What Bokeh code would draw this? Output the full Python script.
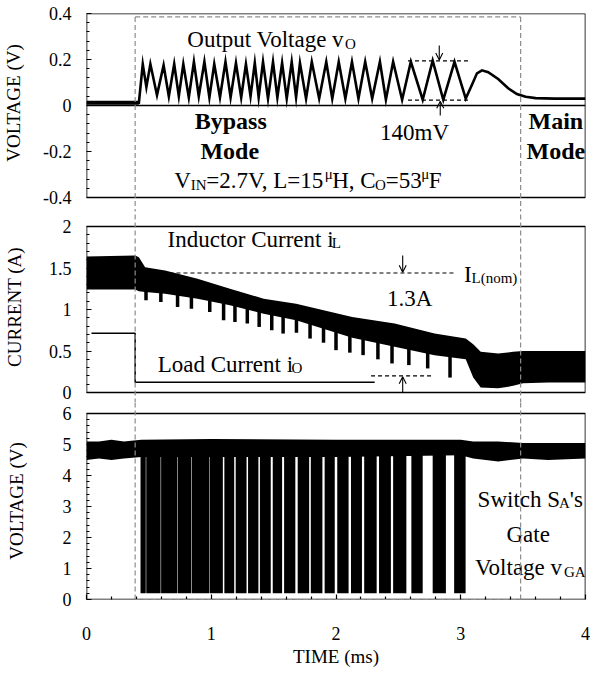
import numpy as np
from bokeh.plotting import figure
from bokeh.models import Range1d, FixedTicker, ColumnDataSource, Arrow, OpenHead
from bokeh.layouts import column
from bokeh.embed import file_html
from bokeh.resources import INLINE
from bokeh.core.properties import value

# ------------------------------------------------------------------ data
time_ticks = [0, 1, 2, 3, 4]
time_labels = ["0", "1", "2", "3", "4"]
vo_ticks = [-0.4, -0.2, 0, 0.2, 0.4]
vo_labels = ["-0.4", "-0.2", "0", "0.2", "0.4"]
il_ticks = [0, 0.5, 1, 1.5, 2]
il_labels = ["0", "0.5", "1", "1.5", "2"]
vga_ticks = [0, 1, 2, 3, 4, 5, 6]
vga_labels = ["0", "1", "2", "3", "4", "5", "6"]

# output voltage v_O (ms, V) - peaks and valleys of the ripple
vo_t = [0.00, 0.42, 0.451, 0.48, 0.512, 0.565, 0.618, 0.66, 0.703, 0.74, 0.776, 0.82,
        0.861, 0.90, 0.945, 0.985, 1.024, 1.07, 1.114, 1.155, 1.198, 1.24, 1.278, 1.315,
        1.349, 1.38, 1.415, 1.455, 1.495, 1.53, 1.568, 1.605, 1.645, 1.68, 1.711, 1.76,
        1.806, 1.865, 1.922, 1.97, 2.022, 2.075, 2.128, 2.18, 2.234, 2.29, 2.352, 2.40,
        2.458, 2.53, 2.60, 2.695, 2.775, 2.86, 2.95, 3.04, 3.09, 3.13, 3.17, 3.22, 3.30,
        3.38, 3.45, 3.52, 3.60, 3.75, 4.00]
vo_v = [0.012, 0.012, 0.18, 0.08, 0.18, 0.045, 0.175, 0.04, 0.18, 0.04, 0.18, 0.035,
        0.19, 0.04, 0.19, 0.035, 0.18, 0.035, 0.19, 0.035, 0.185, 0.035, 0.18, 0.04,
        0.185, 0.035, 0.19, 0.03, 0.19, 0.035, 0.185, 0.03, 0.19, 0.035, 0.185, 0.03,
        0.19, 0.03, 0.19, 0.03, 0.19, 0.03, 0.19, 0.03, 0.19, 0.03, 0.19, 0.025,
        0.19, 0.025, 0.19, 0.025, 0.195, 0.025, 0.19, 0.03, 0.09, 0.14, 0.153, 0.145, 0.115,
        0.075, 0.05, 0.038, 0.032, 0.03, 0.03]

# inductor current i_L envelope (ms, A)
il_t = [0.00, 0.39, 0.42, 0.47, 0.63, 0.89, 1.15, 1.42, 1.68, 2.13, 2.47, 2.79, 3.04,
        3.10, 3.16, 3.30, 3.42, 3.50, 3.70, 4.00]
il_hi = [1.64, 1.65, 1.63, 1.51, 1.47, 1.37, 1.25, 1.13, 1.07, 0.91, 0.83, 0.71, 0.65,
         0.58, 0.49, 0.47, 0.49, 0.50, 0.50, 0.50]
il_lo = [1.24, 1.24, 1.22, 1.21, 1.19, 1.13, 1.05, 0.95, 0.87, 0.66, 0.55, 0.45, 0.40,
         0.18, 0.06, 0.05, 0.08, 0.11, 0.12, 0.12]
# downward teeth of i_L at the end of each switching burst
dip_t = [0.477, 0.596, 0.730, 0.841, 0.988, 1.099, 1.190, 1.289, 1.384, 1.485, 1.576,
         1.683, 1.792, 1.900, 2.000, 2.111, 2.217, 2.336, 2.449, 2.584, 2.735, 2.914]
dip_top = [1.30, 1.28, 1.25, 1.22, 1.18, 1.13, 1.09, 1.06, 1.02, 0.99, 0.96,
           0.92, 0.87, 0.82, 0.78, 0.74, 0.70, 0.67, 0.63, 0.59, 0.53, 0.50]
dip_v = [1.11, 1.09, 1.03, 1.01, 0.97, 0.87, 0.85, 0.83, 0.79, 0.75, 0.71,
         0.72, 0.65, 0.60, 0.51, 0.48, 0.45, 0.40, 0.35, 0.33, 0.29, 0.18]

# load current i_O step (ms, A)
io_t = [0.04, 0.39, 0.39, 2.31]
io_v = [0.715, 0.715, 0.125, 0.125]

# gate voltage v_GA : switching bursts (ms) and idle-high band (V)
burst_on = [0.433, 0.479, 0.598, 0.733, 0.844, 0.990, 1.105, 1.196, 1.295, 1.390, 1.493,
            1.584, 1.693, 1.798, 1.909, 2.010, 2.120, 2.226, 2.345, 2.458, 2.604, 2.775, 2.947]
burst_off = [0.475, 0.594, 0.729, 0.840, 0.986, 1.093, 1.184, 1.283, 1.378, 1.477, 1.568,
             1.674, 1.785, 1.891, 1.990, 2.101, 2.208, 2.326, 2.440, 2.564, 2.695, 2.881, 3.039]
burst_low = 0.2
burst_high = 5.0
gh_t = [0.00, 0.10, 0.20, 0.30, 0.44, 1.00, 2.00, 3.00, 3.10, 3.30, 3.50, 3.70, 4.00]
gh_hi = [5.10, 5.10, 5.15, 5.10, 5.15, 5.18, 5.15, 5.15, 5.10, 5.10, 5.05, 5.05, 5.05]
gh_lo = [4.50, 4.55, 4.50, 4.55, 4.60, 4.60, 4.60, 4.65, 4.55, 4.45, 4.55, 4.50, 4.55]

# dashed marker window (ms) and measurement marks
win_t0, win_t1 = 0.39, 3.48
win_top = 0.385
ripple_hi, ripple_lo = 0.194, 0.023
ripple_t = [2.577, 3.06]
ilnom = 1.44
ilnom_t = [0.665, 2.946]
io_mark = 0.2
io_mark_t = [2.281, 2.772]

# ------------------------------------------------------------------ layout helpers
FONT = "Liberation Serif"
W, FL, FW = 590, 80, 505
X0 = 8 + FL           # page px of t = 0
SX = FW / 4.0         # px per ms
TXT_UP = 8            # px: lift of annotation baselines

TIMES = {' ': 250, '!': 333, "'": 180, '(': 333, ')': 333, ',': 250, '-': 333, '.': 250,
         '=': 564, 'A': 722, 'B': 667, 'C': 667, 'F': 556, 'G': 722, 'H': 722, 'I': 333,
         'L': 611, 'M': 889, 'N': 722, 'O': 722, 'S': 556, 'T': 611, 'V': 722, 'a': 444,
         'c': 444, 'd': 500, 'e': 444, 'g': 500, 'h': 500, 'i': 278, 'l': 278, 'm': 778,
         'n': 500, 'o': 500, 'p': 500, 'r': 333, 's': 389, 't': 278, 'u': 500, 'v': 500,
         'w': 722, 'y': 500, '\u03bc': 500}
for _d in "0123456789":
    TIMES[_d] = 500


def px2t(px):
    return (px - X0) / SX


def twidth(s, size):
    return sum(TIMES.get(c, 500) for c in s) / 1000.0 * size


def rich(store, x_px, y_val, ppu, pieces, anchor="left", size=23, sub=15):
    y_val = y_val + TXT_UP / ppu
    ws = [twidth(t, size if k == "n" else sub) for t, k in pieces]
    cur = x_px - (sum(ws) / 2.0 if anchor == "center" else 0)
    for (t, k), w in zip(pieces, ws):
        dy = {"n": 0, "sub": 4, "sup": -7}[k]
        store["x"].append(px2t(cur))
        store["y"].append(y_val - dy / ppu)
        store["text"].append(t)
        store["size"].append("%dpx" % (size if k == "n" else sub))
        store["style"].append("normal")
        store["align"].append("left")
        cur += w


def plain(store, x_px, y_val, ppu, text, size=23, style="normal", align="center"):
    store["x"].append(px2t(x_px))
    store["y"].append(y_val + TXT_UP / ppu)
    store["text"].append(text)
    store["size"].append("%dpx" % size)
    store["style"].append(style)
    store["align"].append(align)


def new_store():
    return dict(x=[], y=[], text=[], size=[], style=[], align=[])


def draw_texts(p, store):
    p.text(x="x", y="y", text="text", source=ColumnDataSource(store),
           text_font=value(FONT), text_font_size="size", text_font_style="style",
           text_align="align", text_baseline="alphabetic", text_color="black")


def minor_list(lo, hi, step, majors):
    n = int(round((hi - lo) / step))
    out = []
    for i in range(n + 1):
        v = round(lo + i * step, 4)
        if all(abs(v - m) > 1e-6 for m in majors):
            out.append(v)
    return out


def style_axis(ax, ticks, labels, minor, label, lab_standoff, tick_standoff):
    ax.ticker = FixedTicker(ticks=ticks, minor_ticks=minor)
    ax.major_label_overrides = {t: l for t, l in zip(ticks, labels)}
    ax.axis_line_color = None
    ax.major_tick_in = 5
    ax.major_tick_out = 0
    ax.minor_tick_in = 3
    ax.minor_tick_out = 0
    ax.major_tick_line_color = "black"
    ax.minor_tick_line_color = "black"
    ax.major_tick_line_width = 1.2
    ax.minor_tick_line_width = 1.2
    ax.major_label_text_font = FONT
    ax.major_label_text_font_size = "18px"
    ax.major_label_text_color = "black"
    ax.major_label_standoff = tick_standoff
    ax.axis_label = label
    ax.axis_label_text_font = FONT
    ax.axis_label_text_font_size = "19px"
    ax.axis_label_text_font_style = "normal"
    ax.axis_label_text_color = "black"
    ax.axis_label_standoff = lab_standoff


def panel(height, y0, y1, top, bottom, xaxis):
    p = figure(width=W, height=height, x_range=Range1d(0, 4), y_range=Range1d(y0, y1),
               output_backend="svg", toolbar_location=None,
               x_axis_location="below" if xaxis else None,
               min_border_left=FL, min_border_right=W - FL - FW,
               min_border_top=top, min_border_bottom=bottom)
    p.outline_line_color = None
    p.grid.visible = False
    return p


DASH_C = "#8c8c8c"
DASH = "5 3"
HEAD = dict(size=7, line_width=1.1)

# ------------------------------------------------------------------ panel 1 : v_O
# canvas y 0..211, frame 13..211, +0.4 at 13, -0.4 at 197
PPU1 = (197 - 13) / 0.8
Z1 = 197 - 0.4 * PPU1
p1 = panel(211, -0.4 - 14 / PPU1, 0.4, 13, 0, False)
style_axis(p1.yaxis[0], vo_ticks, vo_labels, minor_list(-0.4, 0.4, 0.04, vo_ticks),
           "\u00a0" * 4 + "VOLTAGE (V)", 16, 15)
p1.quad(left=0, right=4, bottom=-0.4, top=0.4, fill_color=None, line_color="black", line_width=1.6)
p1.line(x=[0, 4], y=[0, 0], line_color="black", line_width=1.6)
p1.line(x=vo_t, y=vo_v, line_color="black", line_width=2.6, line_join="miter")
p1.line(x=vo_t[:2], y=vo_v[:2], line_color="black", line_width=4)
for yy in (ripple_hi, ripple_lo):
    p1.line(x=ripple_t, y=[yy, yy], line_color="black", line_width=1.2, line_dash="4 3")
p1.add_layout(Arrow(end=OpenHead(**HEAD), x_start=px2t(445), x_end=px2t(445),
                    y_start=(Z1 - 45) / PPU1, y_end=ripple_hi + 0.004, line_width=1.1))
p1.add_layout(Arrow(end=OpenHead(**HEAD), x_start=px2t(446), x_end=px2t(446),
                    y_start=(Z1 - 115) / PPU1, y_end=ripple_lo - 0.004, line_width=1.1))
p1.segment(x0=[win_t0, win_t1, win_t0], x1=[win_t0, win_t1, win_t1],
           y0=[win_top, win_top, win_top], y1=[-1, -1, win_top],
           line_color=DASH_C, line_width=1.2, line_dash=DASH, level="overlay")
s1 = new_store()
rich(s1, 190, (Z1 - 47) / PPU1, PPU1, [("Output Voltage v", "n"), ("O", "sub")])
plain(s1, 420, (Z1 - 140) / PPU1, PPU1, "140mV")
plain(s1, 234, (Z1 - 128) / PPU1, PPU1, "Bypass", size=24, style="bold")
plain(s1, 233, (Z1 - 158) / PPU1, PPU1, "Mode", size=24, style="bold")
plain(s1, 563, (Z1 - 128) / PPU1, PPU1, "Main", size=24, style="bold")
plain(s1, 563, (Z1 - 158) / PPU1, PPU1, "Mode", size=24, style="bold")
rich(s1, 312, (Z1 - 188) / PPU1, PPU1,
     [("V", "n"), ("IN", "sub"), ("=2.7V, L=15", "n"), ("\u03bc", "sup"), ("H, C", "n"),
      ("O", "sub"), ("=53", "n"), ("\u03bc", "sup"), ("F", "n")], anchor="center")
draw_texts(p1, s1)

# ------------------------------------------------------------------ panel 2 : currents
# canvas y 211..402, 2 A at 226, 0 A at 392
PPU2 = 83.0
p2 = panel(191, -10 / PPU2, 2 + 15 / PPU2, 0, 0, False)
style_axis(p2.yaxis[0], il_ticks, il_labels, minor_list(0, 2, 0.1, il_ticks),
           "CURRENT (A)", 21, 15)
p2.quad(left=0, right=4, bottom=0, top=2, fill_color=None, line_color="black", line_width=1.6)
p2.varea(x=il_t, y1=il_lo, y2=il_hi, fill_color="black")
p2.segment(x0=dip_t, x1=dip_t, y0=dip_top, y1=dip_v, line_color="black", line_width=3.5)
p2.line(x=io_t, y=io_v, line_color="black", line_width=1.5)
p2.line(x=ilnom_t, y=[ilnom, ilnom], line_color="black", line_width=1.2, line_dash="4 3")
p2.line(x=io_mark_t, y=[io_mark, io_mark], line_color="black", line_width=1.2, line_dash="4 3")
p2.add_layout(Arrow(end=OpenHead(**HEAD), x_start=px2t(408), x_end=px2t(408),
                    y_start=(392 - 255) / PPU2, y_end=ilnom + 0.01, line_width=1.1))
p2.add_layout(Arrow(end=OpenHead(**HEAD), x_start=px2t(408), x_end=px2t(408),
                    y_start=0.0, y_end=io_mark - 0.01, line_width=1.1))
p2.segment(x0=[win_t0, win_t1], x1=[win_t0, win_t1], y0=[-1, -1], y1=[3, 3],
           line_color=DASH_C, line_width=1.2, line_dash=DASH, level="overlay")
s2 = new_store()
rich(s2, 170, (392 - 246.7) / PPU2, PPU2, [("Inductor Current i", "n"), ("L", "sub")])
rich(s2, 160, (392 - 371.7) / PPU2, PPU2, [("Load Current i", "n"), ("O", "sub")])
rich(s2, 470, (392 - 281.7) / PPU2, PPU2, [("I", "n"), ("L(nom)", "sub")])
plain(s2, 415, (392 - 306) / PPU2, PPU2, "1.3A")
draw_texts(p2, s2)

# ------------------------------------------------------------------ panel 3 : v_GA
# canvas y 402..669, frame 402..599, 6 V at 413, 0 V at 599
PPU3 = 31.0
p3 = panel(267, 0, 6 + 11 / PPU3, 0, 70, True)
style_axis(p3.yaxis[0], vga_ticks, vga_labels, minor_list(0, 6, 0.2, vga_ticks),
           "VOLTAGE (V)", 33, 15)
style_axis(p3.xaxis[0], time_ticks, time_labels, minor_list(0, 4, 0.2, time_ticks),
           "TIME (ms)", 3, 27)
p3.quad(left=burst_on, right=burst_off, bottom=burst_low, top=burst_high,
        fill_color="black", line_color=None)
p3.varea(x=gh_t, y1=gh_lo, y2=gh_hi, fill_color="black")
p3.quad(left=0, right=4, bottom=0, top=6, fill_color=None, line_color="black", line_width=1.6)
p3.segment(x0=[win_t0, win_t1, win_t0], x1=[win_t0, win_t1, win_t1],
           y0=[0, 0, 0], y1=[9, 9, 0],
           line_color=DASH_C, line_width=1.2, line_dash=DASH, level="overlay")
s3 = new_store()
rich(s3, 537, (599 - 506.7) / PPU3, PPU3, [("Switch S", "n"), ("A", "sub"), ("'s", "n")],
     anchor="center")
plain(s3, 535, (599 - 541.7) / PPU3, PPU3, "Gate")
rich(s3, 537, (599 - 575) / PPU3, PPU3, [("Voltage v", "n"), ("GA", "sub")], anchor="center")
draw_texts(p3, s3)

layout = column(p1, p2, p3, spacing=0)
open("out.html", "w").write(file_html(layout, INLINE))
